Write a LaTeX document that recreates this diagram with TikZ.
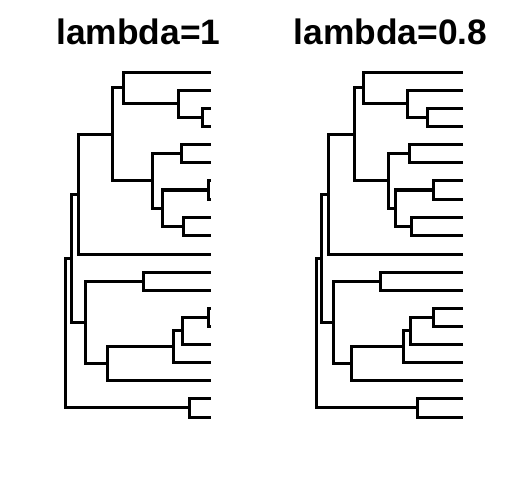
\documentclass[tikz,border=0pt]{standalone}
\usepackage{fontspec}
\setmainfont{Liberation Sans}
\usetikzlibrary{calc}

% edges of one tree, coordinates named <prefix><node>
\newcommand{\treeedges}[1]{%
  \draw[branch] (#1R) |- (#1K)  (#1R) |- (#1S)
    (#1K) |- (#1J)  (#1K) |- (#1L)
    (#1J) |- (#1D)  (#1J) |- (#1t11)
    (#1D) |- (#1A)  (#1D) |- (#1E)
    (#1A) |- (#1t1) (#1A) |- (#1B)
    (#1B) |- (#1t2) (#1B) |- (#1C)
    (#1C) |- (#1t3) (#1C) |- (#1t4)
    (#1E) |- (#1F)  (#1E) |- (#1G)
    (#1F) |- (#1t5) (#1F) |- (#1t6)
    (#1G) |- (#1H)  (#1G) |- (#1I)
    (#1H) |- (#1t7) (#1H) |- (#1t8)
    (#1I) |- (#1t9) (#1I) |- (#1t10)
    (#1L) |- (#1M)  (#1L) |- (#1N)
    (#1M) |- (#1t12) (#1M) |- (#1t13)
    (#1N) |- (#1O)  (#1N) |- (#1t18)
    (#1O) |- (#1P)  (#1O) |- (#1t17)
    (#1P) |- (#1Q)  (#1P) |- (#1t16)
    (#1Q) |- (#1t14) (#1Q) |- (#1t15)
    (#1S) |- (#1t19) (#1S) |- (#1t20);}

\begin{document}
\begin{tikzpicture}[
  x=1bp, y=-1bp,
  branch/.style={line width=3bp, line join=miter, line cap=rect},
  title/.style={anchor=base, inner sep=0pt, font=\fontsize{35.5}{40}\selectfont\bfseries}
]
  \useasboundingbox (0,0) rectangle (504,504);

  \node[title] (lefttitle) at (138.5,45) {lambda=1};
  \node[title] (righttitle) at (390.5,45) {lambda=0.8};

  % tips
  \foreach \yy [count=\i] in {73,91,109,127,145,163,181,199,217,235,254,272,290,308,326,344,362,380,398,417} {
    \coordinate (lt\i) at (209,\yy);
    \coordinate (rt\i) at (461,\yy);
  }

  % left tree, lambda=1
  \coordinate (lR) at (65,332);
  \coordinate (lK) at (71,258);
  \coordinate (lJ) at (78,194);
  \coordinate (lD) at (112,135);
  \coordinate (lA) at (123,88);
  \coordinate (lB) at (178,104);
  \coordinate (lC) at (202,118);
  \coordinate (lE) at (152,181);
  \coordinate (lF) at (181,154);
  \coordinate (lG) at (162,208);
  \coordinate (lH) at (208,190);
  \coordinate (lI) at (183,226);
  \coordinate (lL) at (85,322);
  \coordinate (lM) at (143,281);
  \coordinate (lN) at (107,363);
  \coordinate (lO) at (173,346);
  \coordinate (lP) at (182,330);
  \coordinate (lQ) at (208,317);
  \coordinate (lS) at (189,407);
  \treeedges{l}

  % right tree, lambda=0.8
  \coordinate (rR) at (316,332);
  \coordinate (rK) at (321,258);
  \coordinate (rJ) at (328,194);
  \coordinate (rD) at (354,135);
  \coordinate (rA) at (363,88);
  \coordinate (rB) at (407,104);
  \coordinate (rC) at (427,118);
  \coordinate (rE) at (388,181);
  \coordinate (rF) at (409,154);
  \coordinate (rG) at (395,208);
  \coordinate (rH) at (433,190);
  \coordinate (rI) at (411,226);
  \coordinate (rL) at (333,322);
  \coordinate (rM) at (380,281);
  \coordinate (rN) at (351,363);
  \coordinate (rO) at (403,346);
  \coordinate (rP) at (410,330);
  \coordinate (rQ) at (433,317);
  \coordinate (rS) at (417,407);
  \treeedges{r}
\end{tikzpicture}
\end{document}
